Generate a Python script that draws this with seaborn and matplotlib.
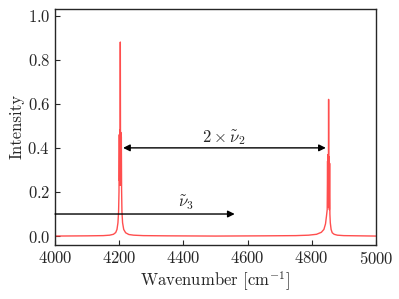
import matplotlib
matplotlib.use("Agg")
import matplotlib.pyplot as plt
import seaborn as sns

# spectrum samples (wavenumber in cm^-1, intensity)
wavenumber = [4000, 4100, 4150, 4170, 4182, 4189, 4193, 4196, 4198, 4199.3,
              4200.2, 4201.0, 4201.8, 4202.6, 4203.4, 4204.2, 4205.0, 4205.8,
              4206.6, 4207.4, 4208.5, 4210.5, 4214, 4220, 4230, 4245, 4275, 4350,
              4500, 4650, 4750, 4790, 4815, 4830, 4838, 4843, 4846, 4848.3,
              4849.5, 4850.3, 4851.1, 4851.9, 4852.7, 4853.5, 4854.3, 4855.1,
              4855.9, 4856.7, 4858, 4860.5, 4864, 4870, 4880, 4900, 4950, 5000]
intensity = [0.0, 0.001, 0.002, 0.004, 0.008, 0.016, 0.03, 0.06, 0.11, 0.20,
             0.46, 0.25, 0.48, 0.23, 0.88, 0.26, 0.47, 0.23, 0.45, 0.21,
             0.11, 0.06, 0.03, 0.015, 0.007, 0.004, 0.002, 0.001,
             0.0, 0.001, 0.002, 0.004, 0.008, 0.017, 0.03, 0.055, 0.09, 0.12,
             0.34, 0.13, 0.37, 0.14, 0.62, 0.15, 0.36, 0.12, 0.33, 0.10,
             0.06, 0.03, 0.015, 0.008, 0.004, 0.002, 0.001, 0.0]

# annotation arrows
nu2_arrow = (4212, 4844, 0.40)
nu3_arrow = (4000, 4560, 0.10)

sns.set_style("ticks")
plt.rcParams["font.family"] = "serif"
plt.rcParams["font.serif"] = ["cmr10"]
plt.rcParams["mathtext.fontset"] = "cm"
plt.rcParams["axes.formatter.use_mathtext"] = True
plt.rcParams["xtick.direction"] = "in"
plt.rcParams["ytick.direction"] = "in"

fig, ax = plt.subplots(figsize=(3.99, 2.99), dpi=100)
fig.subplots_adjust(left=0.138, right=0.942, bottom=0.181, top=0.970)

sns.lineplot(x=wavenumber, y=intensity, ax=ax, color="#ff3b3b", alpha=0.9,
             linewidth=1.0, estimator=None, sort=False)

ax.annotate("", xy=(nu2_arrow[1], nu2_arrow[2]), xytext=(nu2_arrow[0], nu2_arrow[2]),
            arrowprops=dict(arrowstyle="<|-|>", color="black", lw=1, mutation_scale=10,
                            shrinkA=0, shrinkB=0))
ax.annotate("", xy=(nu3_arrow[1], nu3_arrow[2]), xytext=(nu3_arrow[0], nu3_arrow[2]),
            arrowprops=dict(arrowstyle="-|>", color="black", lw=1, mutation_scale=10,
                            shrinkA=0, shrinkB=0))
ax.text(4527, 0.445, r"$2\times\tilde{\nu}_2$", ha="center", va="center", fontsize=12)
ax.text(4410, 0.15, r"$\tilde{\nu}_3$", ha="center", va="center", fontsize=12)

ax.set_xlim(4000, 5000)
ax.set_ylim(-0.04, 1.03)
ax.set_xticks([4000, 4200, 4400, 4600, 4800, 5000])
ax.set_yticks([0.0, 0.2, 0.4, 0.6, 0.8, 1.0])
ax.tick_params(labelsize=12, length=3.5, width=0.8)
for s in ax.spines.values():
    s.set_linewidth(1.0)
ax.set_xlabel(r"Wavenumber [cm$^{-1}$]", fontsize=12, labelpad=2)
ax.set_ylabel("Intensity", fontsize=12, labelpad=2)

fig.savefig("out.png", dpi=100)
